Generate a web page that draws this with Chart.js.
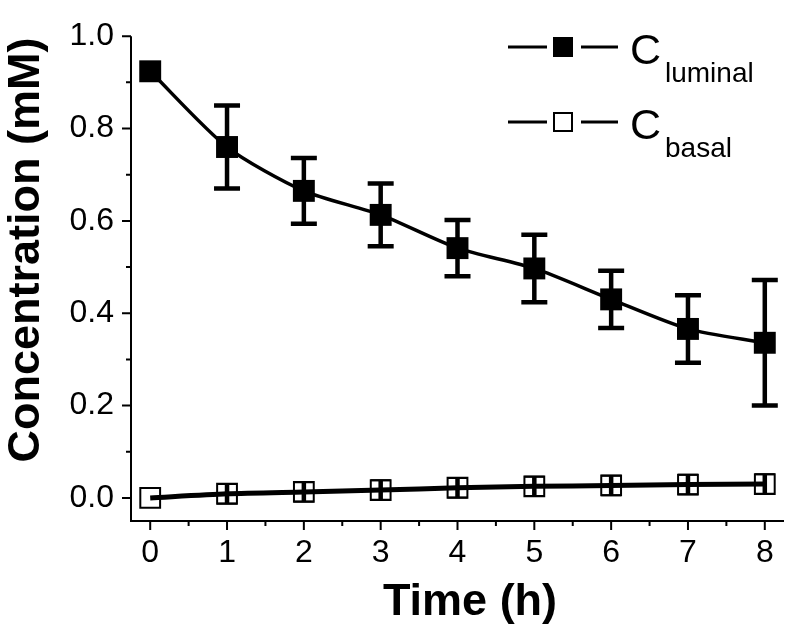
<!DOCTYPE html>
<html>
<head>
<meta charset="utf-8">
<script src="https://cdn.jsdelivr.net/npm/chart.js@4"></script>
<style>
  html, body { margin: 0; padding: 0; background: #fff; }
  #wrap { width: 800px; height: 631px; }
</style>
</head>
<body>
<div id="wrap"><canvas id="c" width="800" height="631"></canvas></div>
<script>
// ---- data ----
const times = [0, 1, 2, 3, 4, 5, 6, 7, 8];
const luminal = [0.924, 0.760, 0.665, 0.613, 0.541, 0.497, 0.430, 0.366, 0.336];
const luminalErr = [0, 0.090, 0.071, 0.068, 0.061, 0.073, 0.062, 0.073, 0.136];
const basal = [0.000, 0.009, 0.013, 0.017, 0.022, 0.025, 0.027, 0.029, 0.030];
const basalErr = [0, 0.021, 0.021, 0.021, 0.021, 0.021, 0.021, 0.021, 0.021];
const yMajorTicks = [0.0, 0.2, 0.4, 0.6, 0.8, 1.0];
const yMinorTicks = [0.1, 0.3, 0.5, 0.7, 0.9];
const xMajorTicks = [0, 1, 2, 3, 4, 5, 6, 7, 8];
const xMinorTicks = [0.5, 1.5, 2.5, 3.5, 4.5, 5.5, 6.5, 7.5];
const xTitle = 'Time (h)';
const yTitle = 'Concentration (mM)';
const seriesNames = [['C', 'luminal'], ['C', 'basal']];

const FONT = '"Liberation Sans", Arial, Helvetica, sans-serif';

const extrasPlugin = {
  id: 'extras',
  afterDatasetsDraw(chart) {
    const ctx = chart.ctx;
    const xs = chart.scales.x, ys = chart.scales.y;
    ctx.save();
    const errSets = [
      {vals: luminal, errs: luminalErr, cap: 26},
      {vals: basal, errs: basalErr, cap: 20}
    ];
    ctx.strokeStyle = '#000';
    ctx.lineCap = 'butt';
    errSets.forEach((s, k) => {
      times.forEach((t, i) => {
        const e = s.errs[i];
        if (!e) return;
        const px = xs.getPixelForValue(t);
        const top = ys.getPixelForValue(s.vals[i] + e);
        const bot = ys.getPixelForValue(s.vals[i] - e);
        ctx.lineWidth = 4.5;
        ctx.beginPath();
        ctx.moveTo(px, top); ctx.lineTo(px, bot);
        ctx.stroke();
        ctx.lineWidth = k === 0 ? 4.5 : 2;
        ctx.beginPath();
        ctx.moveTo(px - s.cap / 2, top); ctx.lineTo(px + s.cap / 2, top);
        ctx.moveTo(px - s.cap / 2, bot); ctx.lineTo(px + s.cap / 2, bot);
        ctx.stroke();
      });
    });
    ctx.restore();
  },
  afterDraw(chart) {
    const ctx = chart.ctx;
    const xs = chart.scales.x, ys = chart.scales.y;
    const area = chart.chartArea;
    ctx.save();
    ctx.strokeStyle = '#000';
    ctx.lineWidth = 2;
    ctx.beginPath();
    ctx.moveTo(area.left, area.top);
    ctx.lineTo(area.left, area.bottom);
    ctx.lineTo(area.right, area.bottom);
    ctx.stroke();
    ctx.beginPath();
    yMajorTicks.forEach(v => { const p = ys.getPixelForValue(v); ctx.moveTo(area.left - 9, p); ctx.lineTo(area.left, p); });
    yMinorTicks.forEach(v => { const p = ys.getPixelForValue(v); ctx.moveTo(area.left - 5, p); ctx.lineTo(area.left, p); });
    xMajorTicks.forEach(v => { const p = xs.getPixelForValue(v); ctx.moveTo(p, area.bottom); ctx.lineTo(p, area.bottom + 9); });
    xMinorTicks.forEach(v => { const p = xs.getPixelForValue(v); ctx.moveTo(p, area.bottom); ctx.lineTo(p, area.bottom + 5); });
    ctx.stroke();

    ctx.fillStyle = '#000';
    ctx.font = 'bold 45px ' + FONT;
    ctx.textAlign = 'center';
    ctx.textBaseline = 'alphabetic';
    ctx.fillText(xTitle, 470, 615);
    ctx.save();
    ctx.translate(39, 250);
    ctx.rotate(-Math.PI / 2);
    ctx.fillText(yTitle, 0, 0);
    ctx.restore();

    const rows = [
      {y: 47, fill: '#000', name: seriesNames[0]},
      {y: 122, fill: '#fff', name: seriesNames[1]}
    ];
    rows.forEach(r => {
      ctx.strokeStyle = '#000';
      ctx.lineWidth = 3;
      ctx.beginPath();
      ctx.moveTo(508, r.y); ctx.lineTo(547, r.y);
      ctx.moveTo(581, r.y); ctx.lineTo(618, r.y);
      ctx.stroke();
      ctx.fillStyle = r.fill;
      ctx.fillRect(553, r.y - 10, 20, 20);
      ctx.lineWidth = 2;
      ctx.strokeRect(554, r.y - 9, 18, 18);
      ctx.fillStyle = '#000';
      ctx.textAlign = 'left';
      ctx.textBaseline = 'alphabetic';
      ctx.font = '43px ' + FONT;
      ctx.fillText(r.name[0], 630, r.y + 17);
      ctx.font = '28px ' + FONT;
      ctx.fillText(r.name[1], 665, r.y + 35);
    });
    ctx.restore();
  }
};

const ctx = document.getElementById('c').getContext('2d');
new Chart(ctx, {
  type: 'line',
  data: {
    datasets: [
      {
        label: 'C luminal',
        data: times.map((t, i) => ({x: t, y: luminal[i]})),
        borderColor: '#000',
        borderWidth: 3.5,
        tension: 0.25,
        pointStyle: 'rect',
        pointRadius: 15.5,
        pointBackgroundColor: '#000',
        pointBorderColor: '#000',
        pointBorderWidth: 0,
        clip: false
      },
      {
        label: 'C basal',
        data: times.map((t, i) => ({x: t, y: basal[i]})),
        borderColor: '#000',
        borderWidth: 5,
        tension: 0.25,
        pointStyle: 'rect',
        pointRadius: 14,
        pointBackgroundColor: 'rgba(255,255,255,0)',
        pointBorderColor: '#000',
        pointBorderWidth: 2,
        clip: false
      }
    ]
  },
  options: {
    responsive: false,
    animation: false,
    events: [],
    layout: { padding: { top: 20, right: 7, left: 0, bottom: 0 } },
    plugins: { legend: { display: false }, tooltip: { enabled: false }, title: { display: false } },
    scales: {
      x: {
        type: 'linear',
        min: -0.25,
        max: 8.25,
        grid: { display: false, drawTicks: false },
        border: { display: false },
        afterBuildTicks: s => { s.ticks = xMajorTicks.map(v => ({value: v})); },
        afterFit: s => { s.height = 110; },
        ticks: {
          autoSkip: false,
          maxRotation: 0,
          padding: 13,
          color: '#000',
          font: { family: FONT, size: 32 },
          callback: v => String(v)
        }
      },
      y: {
        type: 'linear',
        min: -0.05,
        max: 1.0,
        grid: { display: false, drawTicks: false },
        border: { display: false },
        afterBuildTicks: s => { s.ticks = yMajorTicks.map(v => ({value: v})); },
        afterFit: s => { s.width = 131; },
        ticks: {
          autoSkip: false,
          padding: 17,
          color: '#000',
          font: { family: FONT, size: 32 },
          callback: v => Number(v).toFixed(1)
        }
      }
    }
  },
  plugins: [extrasPlugin]
});
</script>
</body>
</html>
